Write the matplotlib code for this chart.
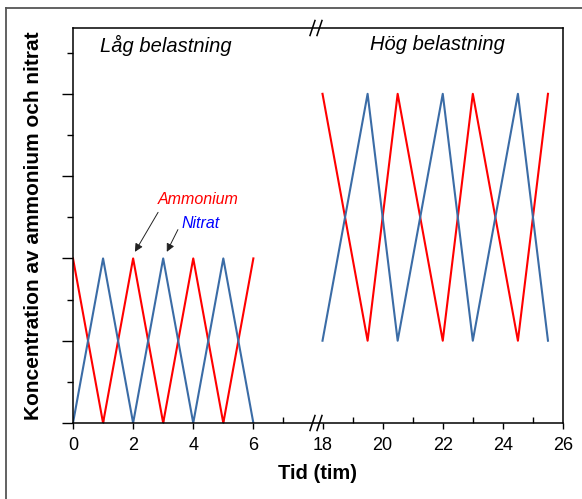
import numpy as np
import matplotlib
matplotlib.use("Agg")
import matplotlib.pyplot as plt
from matplotlib.lines import Line2D

plt.rcParams['font.family'] = ['Liberation Sans', 'DejaVu Sans']

# Low load period (0-6 h)
t_low = [0, 1, 2, 3, 4, 5, 6]
ammonium_low = [2, 0, 2, 0, 2, 0, 2]
nitrat_low = [0, 2, 0, 2, 0, 2, 0]

# High load period (18-25.5 h)
t_high = [18, 19.5, 20.5, 22, 23, 24.5, 25.5]
ammonium_high = [4, 1, 4, 1, 4, 1, 4]
nitrat_high = [1, 4, 1, 4, 1, 4, 1]

major_xticks = [0, 2, 4, 6, 18, 20, 22, 24, 26]
minor_xticks = [1, 3, 5, 7, 19, 21, 23, 25]
major_yticks = [0, 1, 2, 3, 4]
minor_yticks = [0.5, 1.5, 2.5, 3.5, 4.5]

RED = '#FF0000'
BLUE = '#3B6CA6'

# Broken time axis: 0..7.9 h kept as is, 17.6..26 h shifted left
BRK_LO, BRK_HI = 7.9, 17.6
SHIFT = BRK_HI - BRK_LO


def fwd(t):
    t = np.asarray(t, dtype=float)
    return np.where(t <= BRK_LO, t, np.where(t >= BRK_HI, t - SHIFT, BRK_LO))


def inv(u):
    u = np.asarray(u, dtype=float)
    return np.where(u <= BRK_LO, u, u + SHIFT)


W, H = 582, 499
fig = plt.figure(figsize=(W / 100, H / 100), dpi=100)
ax = fig.add_axes([73 / W, 1 - 423 / H, 490 / W, 395 / H])
ax.set_xscale('function', functions=(fwd, inv))
ax.set_xlim(0, 26)
ax.set_ylim(0, 4.80)

ax.plot(t_low, ammonium_low, color=RED, lw=1.5)
ax.plot(t_low, nitrat_low, color=BLUE, lw=1.5)
ax.plot(t_high, ammonium_high, color=RED, lw=1.5)
ax.plot(t_high, nitrat_high, color=BLUE, lw=1.5)

for s in ax.spines.values():
    s.set_linewidth(1.1)

ax.set_xticks(major_xticks)
ax.set_xticklabels([str(v) for v in major_xticks])
ax.set_xticks(minor_xticks, minor=True)
ax.set_yticks(major_yticks)
ax.set_yticklabels([])
ax.set_yticks(minor_yticks, minor=True)
ax.tick_params(axis='x', which='major', direction='out', length=4, width=1.0,
               labelsize=13, pad=6)
ax.tick_params(axis='x', which='minor', direction='in', length=4, width=1.0)
ax.tick_params(axis='y', which='major', direction='out', length=8, width=1.0)
ax.tick_params(axis='y', which='minor', direction='out', length=4, width=1.0)

ax.set_xlabel('Tid (tim)', fontsize=14.5, fontweight='bold', labelpad=7)
ax.set_ylabel('Koncentration av ammonium och nitrat', fontsize=15,
              fontweight='bold', labelpad=10)

ax.text(0.055, 0.957, 'Låg belastning', transform=ax.transAxes, fontsize=14.5,
        style='italic', ha='left', va='center')
ax.text(0.606, 0.957, 'Hög belastning', transform=ax.transAxes, fontsize=14.5,
        style='italic', ha='left', va='center')

arrow = dict(arrowstyle='-|>', color='#222222', lw=0.7, mutation_scale=12,
             shrinkA=0, shrinkB=0)
ax.annotate('', xy=(2.06, 2.08), xytext=(2.83, 2.56), arrowprops=arrow)
ax.annotate('', xy=(3.12, 2.08), xytext=(3.49, 2.35), arrowprops=arrow)
ax.text(4.16, 2.71, 'Ammonium', color=RED, fontsize=11.5, style='italic',
        ha='center', va='center')
ax.text(4.26, 2.43, 'Nitrat', color='#0000FF', fontsize=11.5, style='italic',
        ha='center', va='center')

# Break marks on top and bottom spines
fig.canvas.draw()
bx = ax.transData.transform((BRK_LO, 0))[0] + 2.0
for yfig in (1 - 423 / H, 1 - 28 / H):
    for dx in (0.0, 7.0):
        xc = bx + dx
        fig.add_artist(Line2D([(xc - 2.5) / W, (xc + 2.5) / W],
                              [yfig - 7.5 / H, yfig + 7.5 / H],
                              color='black', lw=1.1))

# Outer frame
fig.add_artist(Line2D([6 / W, 1.0], [1 - 8 / H, 1 - 8 / H],
                      color='#555555', lw=1.3))
fig.add_artist(Line2D([6 / W, 6 / W], [0.0, 1 - 8 / H],
                      color='#555555', lw=1.3))

fig.savefig('out.png', dpi=100)
